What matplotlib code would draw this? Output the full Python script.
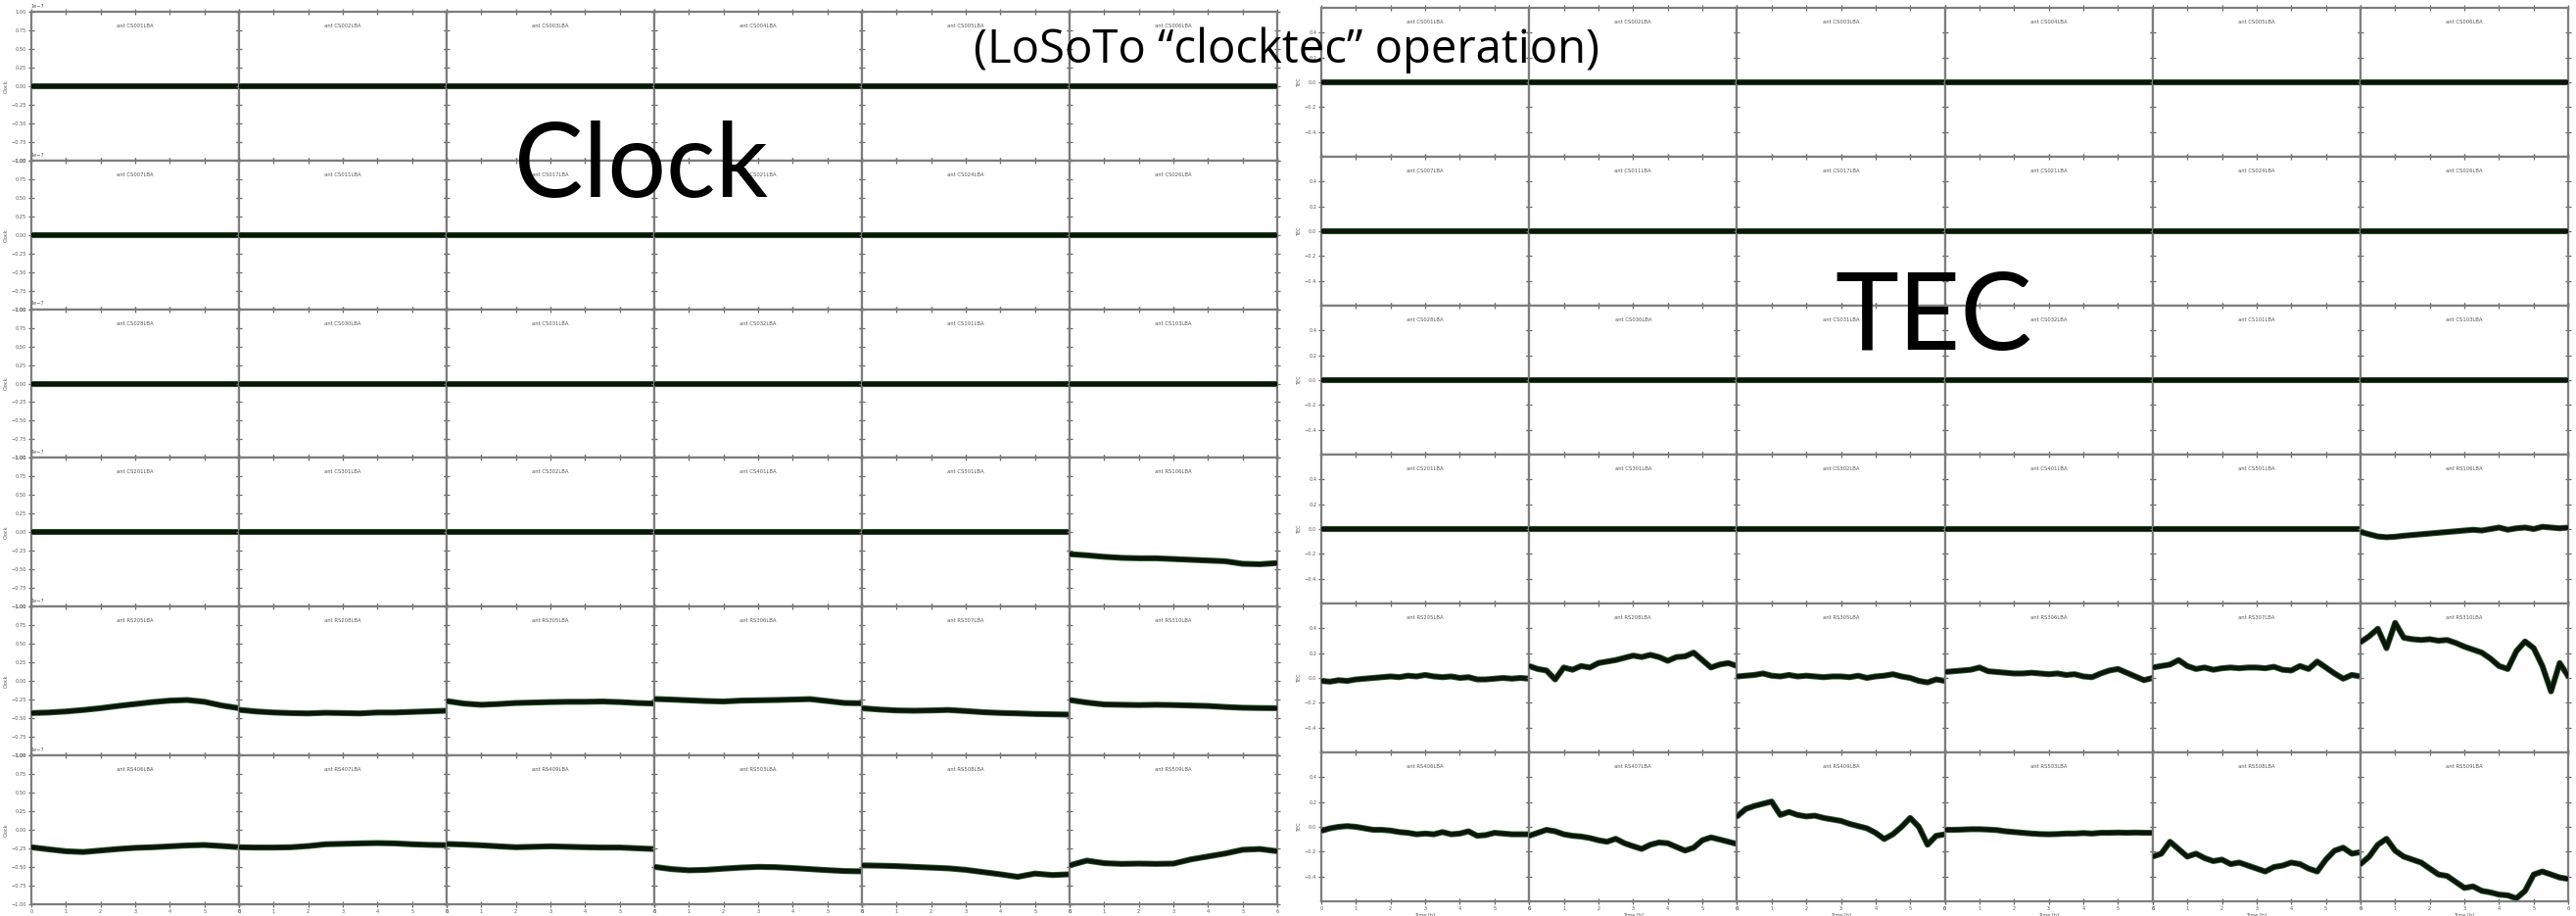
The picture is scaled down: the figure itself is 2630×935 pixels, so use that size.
import matplotlib
matplotlib.use("Agg")
import matplotlib.pyplot as plt
from matplotlib.ticker import MultipleLocator, FixedLocator, ScalarFormatter

W, H, DPI = 2630, 935, 100

# ---------------------------------------------------------------- stations
stations = [
    "CS001LBA", "CS002LBA", "CS003LBA", "CS004LBA", "CS005LBA", "CS006LBA",
    "CS007LBA", "CS011LBA", "CS017LBA", "CS021LBA", "CS024LBA", "CS026LBA",
    "CS028LBA", "CS030LBA", "CS031LBA", "CS032LBA", "CS101LBA", "CS103LBA",
    "CS201LBA", "CS301LBA", "CS302LBA", "CS401LBA", "CS501LBA", "RS106LBA",
    "RS205LBA", "RS208LBA", "RS305LBA", "RS306LBA", "RS307LBA", "RS310LBA",
    "RS406LBA", "RS407LBA", "RS409LBA", "RS503LBA", "RS508LBA", "RS509LBA",
]

# ---------------------------------------------------------------- time axes [h]
t_flat = [0.0, 6.0]
t_clock = [0.0, 0.5, 1.0, 1.5, 2.0, 2.5, 3.0, 3.5, 4.0, 4.5, 5.0, 5.5, 6.0]
t_tec = [0.0, 0.25, 0.5, 0.75, 1.0, 1.25, 1.5, 1.75, 2.0, 2.25, 2.5, 2.75, 3.0,
         3.25, 3.5, 3.75, 4.0, 4.25, 4.5, 4.75, 5.0, 5.25, 5.5, 5.75, 6.0]

# ---------------------------------------------------------------- clock [ns]
clock_core = [0.0, 0.0]
clock_rs106 = [-29.4, -31, -33, -34.4, -35, -35, -36, -37, -38, -39, -42.4, -43, -41.4]
clock_rs205 = [-43.2, -42.4, -41, -39, -36.6, -33.6, -31, -28.4, -26.4, -25.6, -28, -33, -36.6]
clock_rs208 = [-38.8, -41, -42.4, -43.2, -43.6, -42.8, -43.2, -43.6, -42.4, -42.4, -41.6, -40.8, -40]
clock_rs305 = [-27, -30.4, -32, -31, -29.6, -29, -28.4, -28, -28, -27.6, -28.4, -29.6, -30.4]
clock_rs306 = [-24.2, -25, -26, -27, -27.6, -26.4, -26, -25.6, -25, -24.4, -27, -29.6, -30]
clock_rs307 = [-36.6, -38.4, -39.6, -40, -39.6, -39, -40.4, -42, -43, -43.6, -44.4, -44.8, -45.2]
clock_rs310 = [-25.6, -29, -31.6, -32, -32.4, -32, -32.4, -33, -33.6, -35, -36, -36.4, -36.6]
clock_rs406 = [-23.6, -26.4, -29, -30, -28, -26, -24.4, -23.6, -22.4, -21.2, -20.6, -22, -23.6]
clock_rs407 = [-23.6, -24, -24, -23.6, -22, -19.6, -19, -18.4, -18, -18.4, -19.6, -20.4, -20.8]
clock_rs409 = [-19.2, -20, -21, -22.4, -23.6, -23, -22.4, -23, -23.6, -24, -24, -25, -26]
clock_rs503 = [-50, -53, -54.6, -54, -52.4, -51, -50, -50.4, -51.6, -53, -54.4, -55.6, -56]
clock_rs508 = [-48, -48.4, -49, -50, -51, -52, -54, -57, -60, -63.4, -59, -61, -60]
clock_rs509 = [-48, -41.6, -45, -46, -45.6, -46, -45.6, -40, -36, -32, -27, -26, -29]

# ---------------------------------------------------------------- TEC [TECU]
tec_core = [0.0, 0.0]
tec_rs106 = [-.024, -.042, -.06, -.066, -.062, -.054, -.048, -.042, -.036, -.03, -.024, -.018, -.012,
             -.006, -.012, 0, .012, -.006, .006, .012, 0, .018, .012, .006, .012]
tec_rs205 = [-.024, -.03, -.018, -.024, -.012, -.006, 0, .006, .012, .006, .018, .012, .024,
             .012, .006, .012, 0, .006, -.012, -.012, -.006, 0, -.006, 0, -.006]
tec_rs208 = [.096, .072, .06, -.012, .084, .066, .096, .084, .12, .132, .144, .162, .18,
             .168, .186, .168, .138, .168, .174, .204, .144, .084, .108, .12, .096]
tec_rs305 = [.012, .018, .024, .036, .018, .012, .024, .012, .018, .012, .006, .012, .012,
             .006, .018, 0, .012, .018, .03, .012, 0, -.024, -.036, -.012, -.024]
tec_rs306 = [.048, .054, .06, .066, .084, .054, .048, .042, .036, .036, .042, .036, .03,
             .036, .024, .03, .012, .006, .036, .06, .072, .042, .012, -.018, 0]
tec_rs307 = [.084, .096, .108, .144, .096, .072, .084, .066, .078, .084, .078, .084, .084,
             .078, .09, .066, .06, .096, .072, .132, .084, .036, -.006, .024, .012]
tec_rs310 = [.288, .336, .396, .24, .444, .324, .312, .306, .312, .30, .306, .282, .252,
             .228, .204, .156, .096, .072, .216, .294, .24, .096, -.108, .12, .012]
tec_rs406 = [-.032, -.012, 0, .006, 0, -.012, -.024, -.024, -.03, -.042, -.048, -.06, -.054,
             -.06, -.042, -.06, -.054, -.036, -.072, -.066, -.048, -.054, -.06, -.06, -.06]
tec_rs407 = [-.072, -.048, -.024, -.036, -.06, -.072, -.078, -.09, -.108, -.12, -.096, -.132, -.156,
             -.178, -.144, -.126, -.132, -.162, -.191, -.168, -.108, -.085, -.102, -.12, -.138]
tec_rs409 = [.084, .144, .168, .186, .204, .096, .12, .096, .084, .09, .072, .06, .048,
             .024, .006, -.012, -.048, -.098, -.06, 0, .072, 0, -.144, -.072, -.06]
tec_rs503 = [-.024, -.024, -.022, -.019, -.019, -.022, -.026, -.036, -.042, -.048, -.054, -.058, -.06,
             -.058, -.054, -.054, -.05, -.054, -.048, -.048, -.046, -.048, -.046, -.048, -.048]
tec_rs508 = [-.24, -.216, -.12, -.18, -.24, -.216, -.252, -.276, -.264, -.30, -.288, -.312, -.336,
             -.36, -.324, -.312, -.288, -.30, -.336, -.36, -.264, -.192, -.168, -.216, -.204]
tec_rs509 = [-.30, -.24, -.144, -.096, -.192, -.24, -.264, -.288, -.336, -.384, -.396, -.444, -.492,
             -.48, -.516, -.528, -.546, -.552, -.576, -.516, -.384, -.36, -.384, -.408, -.42]

clock_remote = {
    "RS106LBA": clock_rs106, "RS205LBA": clock_rs205, "RS208LBA": clock_rs208,
    "RS305LBA": clock_rs305, "RS306LBA": clock_rs306, "RS307LBA": clock_rs307,
    "RS310LBA": clock_rs310, "RS406LBA": clock_rs406, "RS407LBA": clock_rs407,
    "RS409LBA": clock_rs409, "RS503LBA": clock_rs503, "RS508LBA": clock_rs508,
    "RS509LBA": clock_rs509,
}
tec_remote = {
    "RS106LBA": tec_rs106, "RS205LBA": tec_rs205, "RS208LBA": tec_rs208,
    "RS305LBA": tec_rs305, "RS306LBA": tec_rs306, "RS307LBA": tec_rs307,
    "RS310LBA": tec_rs310, "RS406LBA": tec_rs406, "RS407LBA": tec_rs407,
    "RS409LBA": tec_rs409, "RS503LBA": tec_rs503, "RS508LBA": tec_rs508,
    "RS509LBA": tec_rs509,
}

fig = plt.figure(figsize=(W / DPI, H / DPI), dpi=DPI, facecolor="white")


def px_rect(x, y, w, h):
    return [x / W, 1 - (y + h) / H, w / W, h / H]


def style_axes(ax, first_col, last_row):
    for sp in ax.spines.values():
        sp.set_color("#7d7d7d")
        sp.set_linewidth(1.6)
    ax.tick_params(which="both", direction="inout", length=4, width=0.9,
                   colors="#6a6a6a", labelsize=3.6, labelcolor="#555555",
                   top=True, right=True, pad=1.5,
                   labelleft=first_col, labelbottom=last_row)
    ax.set_xlim(0, 6)
    ax.xaxis.set_major_locator(MultipleLocator(1))
    if last_row:
        ax.set_xlabel("Time [h]", fontsize=3.6, color="#555555", labelpad=1)


def draw_series(ax, t, v):
    ax.plot(t, v, color="#2b5e2b", lw=4.4, solid_joinstyle="round",
            solid_capstyle="round", zorder=2)
    ax.plot(t, v, color="#0b150b", lw=3.2, solid_joinstyle="round",
            solid_capstyle="round", zorder=3)


def panel(x0, top, cw, rh, kind):
    for i, name in enumerate(stations):
        r, c = divmod(i, 6)
        ax = fig.add_axes(px_rect(x0 + c * cw, top + r * rh, cw, rh))
        style_axes(ax, c == 0, r == 5)
        if kind == "clock":
            if name in clock_remote:
                t, v = t_clock, clock_remote[name]
            else:
                t, v = t_flat, clock_core
            draw_series(ax, t, [x * 1e-9 for x in v])
            ax.set_ylim(-1e-7, 1e-7)
            ax.yaxis.set_major_locator(MultipleLocator(0.25e-7))
            fmt = ScalarFormatter()
            fmt.set_powerlimits((0, 0))
            ax.yaxis.set_major_formatter(fmt)
            ax.yaxis.get_offset_text().set_fontsize(3.6)
            ax.yaxis.get_offset_text().set_color("#555555")
            if c == 0:
                ax.set_ylabel("Clock", fontsize=3.6, color="#555555", labelpad=2)
        else:
            if name in tec_remote:
                t, v = t_tec, tec_remote[name]
            else:
                t, v = t_flat, tec_core
            draw_series(ax, t, v)
            ax.set_ylim(-0.6, 0.6)
            ax.yaxis.set_major_locator(FixedLocator([-0.4, -0.2, 0.0, 0.2, 0.4]))
            if c == 0:
                ax.set_ylabel("TEC", fontsize=3.6, color="#555555", labelpad=2)
        ax.text(0.5, 0.905, "ant " + name, transform=ax.transAxes,
                ha="center", va="center", fontsize=3.8, color="#555555")


panel(32, 12, 212.0, 151.8, "clock")
panel(1349, 8, 212.2, 152.0, "tec")

big = dict(family=["Lato", "DejaVu Sans"], color="black")
fig.text(525 / W, 1 - 201 / H, "Clock", fontsize=76, ha="left", va="baseline", **big)
fig.text(1873 / W, 1 - 357 / H, "TEC", fontsize=79, ha="left", va="baseline", **big)
fig.text(1313 / W, 1 - 64 / H, "(LoSoTo \u201cclocktec\u201d operation)", fontsize=34,
         ha="center", va="baseline", family=["Open Sans", "DejaVu Sans"], color="black")

fig.savefig("out.png", dpi=DPI, facecolor="white")
